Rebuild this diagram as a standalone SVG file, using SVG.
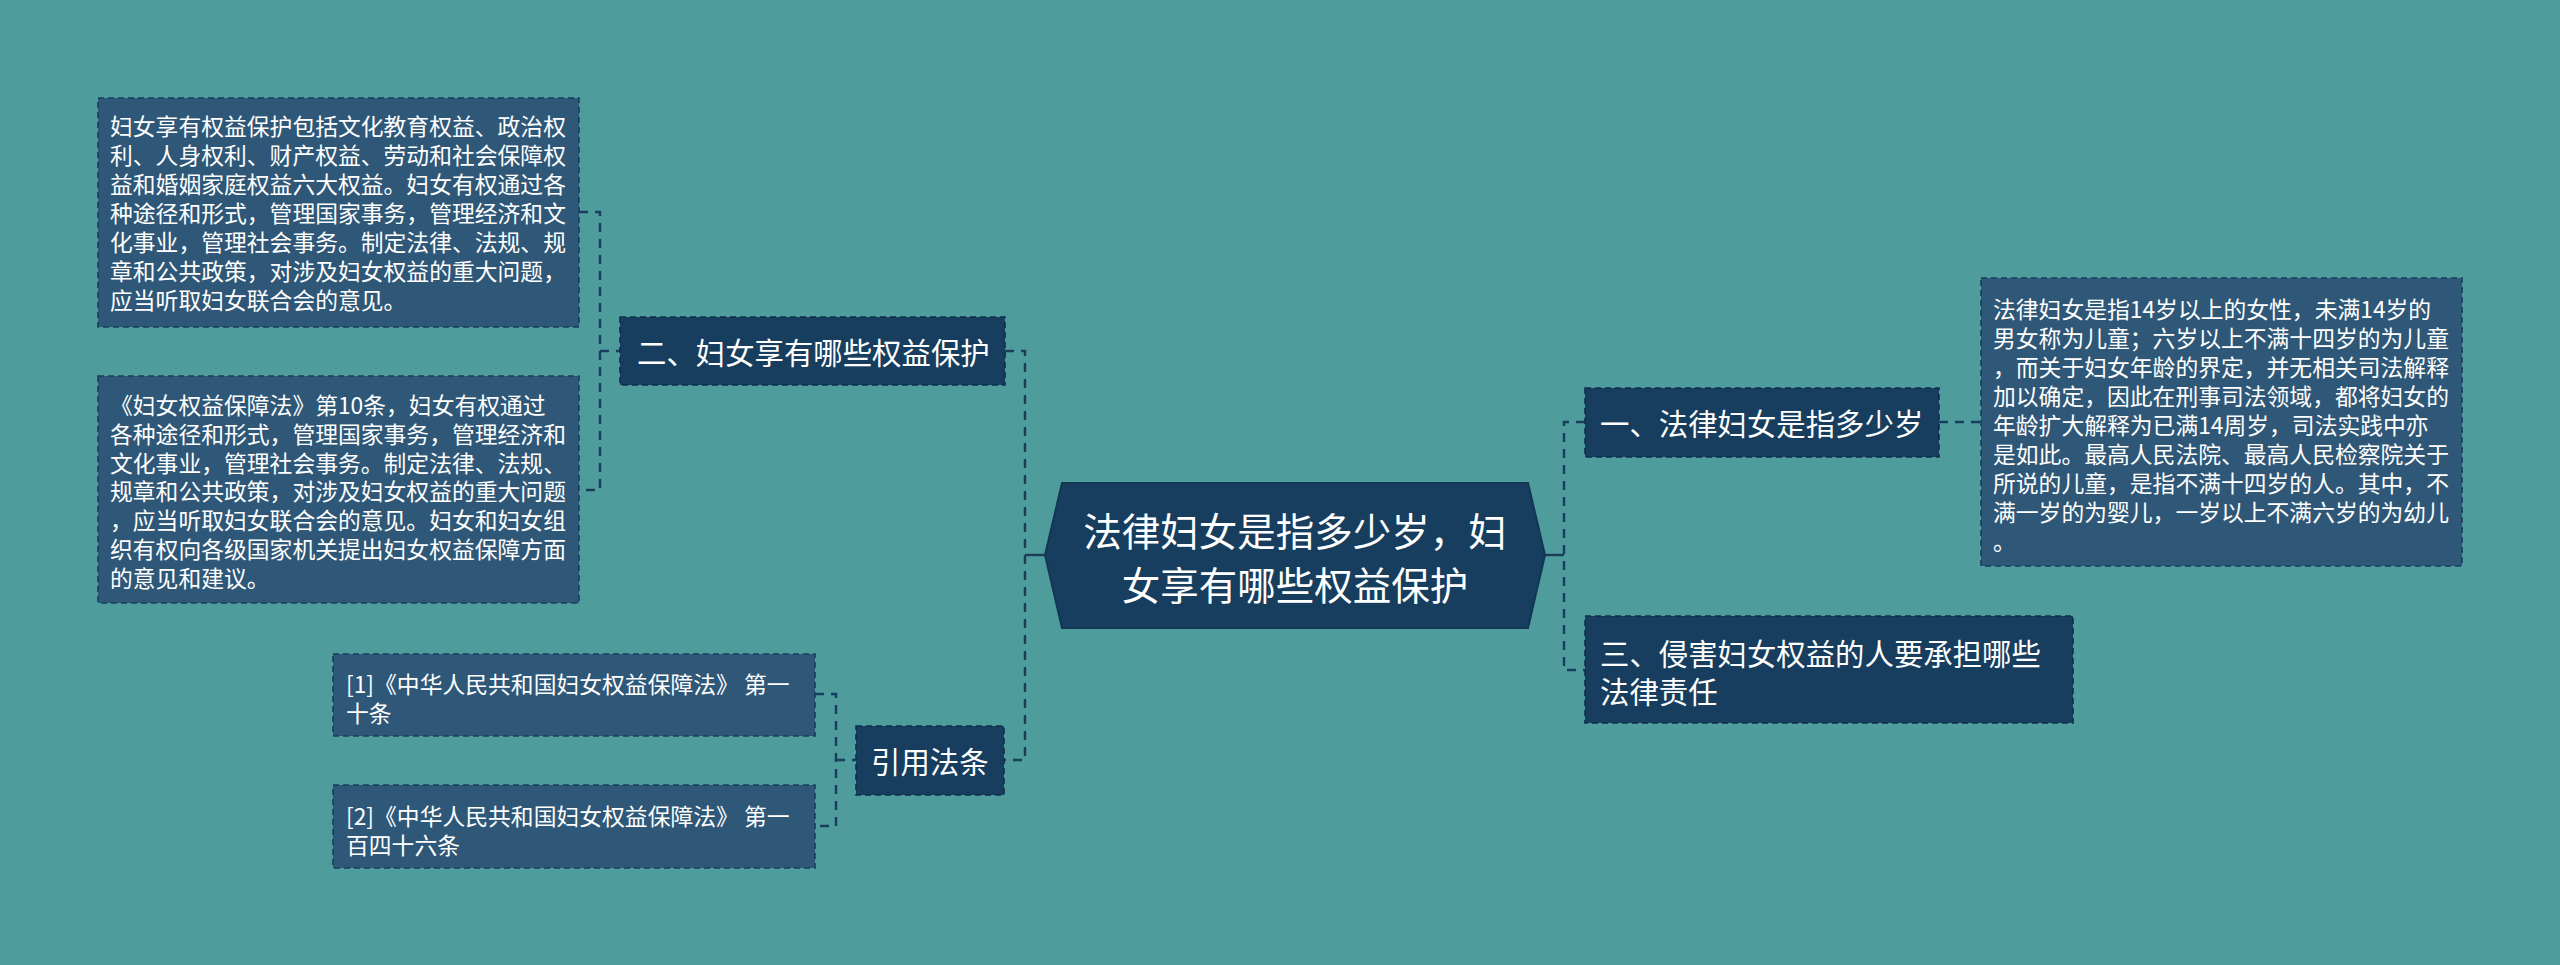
<svg xmlns="http://www.w3.org/2000/svg" width="2560" height="965" viewBox="0 0 2560 965">
<style>
.bg{fill:#4e9c9c}
.main{fill:#173e5e;stroke:#143655;stroke-width:2}
.topic{fill:#173e5e;stroke:#0f2e4a;stroke-width:1.6;stroke-dasharray:6 4}
.leaf{fill:#2f5878;stroke:#1a3d5c;stroke-width:1.6;stroke-dasharray:6 4}
.t{font-family:"Noto Sans CJK SC","Noto Sans",sans-serif;fill:#ffffff;dominant-baseline:central}
.s{font-size:22.8px}
.m{font-size:29.4px}
.l{font-size:38.5px}
.c{fill:none;stroke:#1a3d5c;stroke-width:2.4;stroke-dasharray:9 7}
.cs{fill:none;stroke:#1a3d5c;stroke-width:2.4}
</style>
<rect class="bg" x="0" y="0" width="2560" height="965"/>
<g id="connectors">
<path class="c" d="M579 212 H600 V490 H579"/>
<path class="c" d="M600 351 H620"/>
<path class="c" d="M1005 351 H1025 V760 H1004"/>
<path class="cs" d="M1025 555 H1045"/>
<path class="c" d="M815 694 H836 V826 H815"/>
<path class="c" d="M836 760 H856"/>
<path class="cs" d="M1545 555 H1564"/>
<path class="c" d="M1585 422 H1564 V670 H1585"/>
<path class="c" d="M1939 422 H1981"/>
</g>
<g id="central">
<polygon class="main" points="1062,483 1528,483 1545,555 1528,628 1062,628 1045,555"/>
<text class="t l" x="1295" y="529" text-anchor="middle">法律妇女是指多少岁，妇</text>
<text class="t l" x="1295" y="583" text-anchor="middle">女享有哪些权益保护</text>
</g>
<g id="node-er">
<rect class="topic" x="620" y="317" width="385" height="68"/>
<text class="t m" x="637" y="351">二、妇女享有哪些权益保护</text>
</g>
<g id="leaf-a">
<rect class="leaf" x="98" y="98" width="481" height="229"/>
<text class="t s" x="110" y="125">妇女享有权益保护包括文化教育权益、政治权</text>
<text class="t s" x="110" y="154">利、人身权利、财产权益、劳动和社会保障权</text>
<text class="t s" x="110" y="183">益和婚姻家庭权益六大权益。妇女有权通过各</text>
<text class="t s" x="110" y="212">种途径和形式，管理国家事务，管理经济和文</text>
<text class="t s" x="110" y="241">化事业，管理社会事务。制定法律、法规、规</text>
<text class="t s" x="110" y="270">章和公共政策，对涉及妇女权益的重大问题，</text>
<text class="t s" x="110" y="299">应当听取妇女联合会的意见。</text>
</g>
<g id="leaf-b">
<rect class="leaf" x="98" y="376" width="481" height="227"/>
<text class="t s" x="110" y="404">《妇女权益保障法》第10条，妇女有权通过</text>
<text class="t s" x="110" y="433">各种途径和形式，管理国家事务，管理经济和</text>
<text class="t s" x="110" y="462">文化事业，管理社会事务。制定法律、法规、</text>
<text class="t s" x="110" y="490">规章和公共政策，对涉及妇女权益的重大问题</text>
<text class="t s" x="110" y="519">，应当听取妇女联合会的意见。妇女和妇女组</text>
<text class="t s" x="110" y="548">织有权向各级国家机关提出妇女权益保障方面</text>
<text class="t s" x="110" y="577">的意见和建议。</text>
</g>
<g id="node-yinyong">
<rect class="topic" x="856" y="726" width="148" height="69"/>
<text class="t m" x="871" y="760">引用法条</text>
</g>
<g id="leaf-1">
<rect class="leaf" x="333" y="654" width="482" height="82"/>
<text class="t s" x="346" y="683">[1]《中华人民共和国妇女权益保障法》 第一</text>
<text class="t s" x="346" y="712">十条</text>
</g>
<g id="leaf-2">
<rect class="leaf" x="333" y="785" width="482" height="83"/>
<text class="t s" x="346" y="815">[2]《中华人民共和国妇女权益保障法》 第一</text>
<text class="t s" x="346" y="844">百四十六条</text>
</g>
<g id="node-yi">
<rect class="topic" x="1585" y="388" width="354" height="69"/>
<text class="t m" x="1600" y="422">一、法律妇女是指多少岁</text>
</g>
<g id="leaf-c">
<rect class="leaf" x="1981" y="278" width="481" height="288"/>
<text class="t s" x="1993" y="308">法律妇女是指14岁以上的女性，未满14岁的</text>
<text class="t s" x="1993" y="337">男女称为儿童；六岁以上不满十四岁的为儿童</text>
<text class="t s" x="1993" y="366">，而关于妇女年龄的界定，并无相关司法解释</text>
<text class="t s" x="1993" y="395">加以确定，因此在刑事司法领域，都将妇女的</text>
<text class="t s" x="1993" y="424">年龄扩大解释为已满14周岁，司法实践中亦</text>
<text class="t s" x="1993" y="453">是如此。最高人民法院、最高人民检察院关于</text>
<text class="t s" x="1993" y="482">所说的儿童，是指不满十四岁的人。其中，不</text>
<text class="t s" x="1993" y="511">满一岁的为婴儿，一岁以上不满六岁的为幼儿</text>
<text class="t s" x="1993" y="540">。</text>
</g>
<g id="node-san">
<rect class="topic" x="1585" y="616" width="488" height="107"/>
<text class="t m" x="1600" y="652">三、侵害妇女权益的人要承担哪些</text>
<text class="t m" x="1600" y="690">法律责任</text>
</g>
</svg>
